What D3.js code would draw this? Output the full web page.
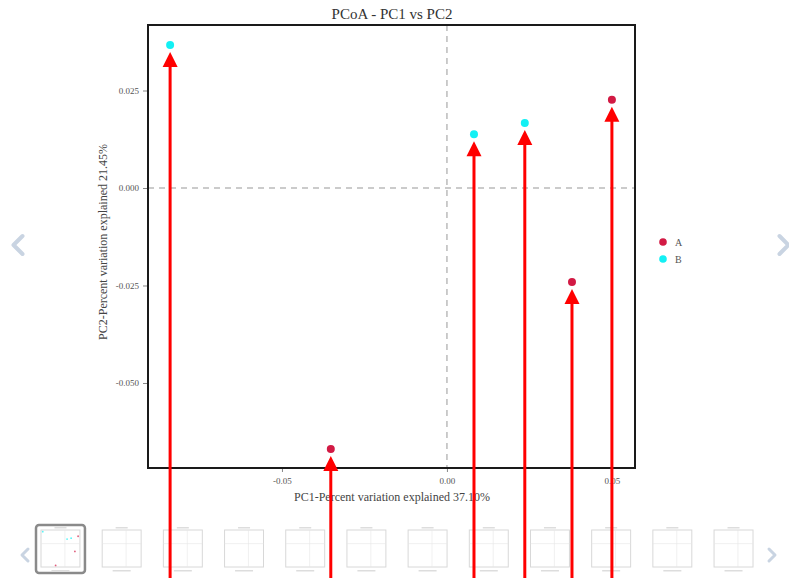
<!DOCTYPE html>
<html>
<head>
<meta charset="utf-8">
<script src="https://cdn.jsdelivr.net/npm/d3@7/dist/d3.min.js"></script>
<style>
  html, body { margin: 0; padding: 0; background: #fff; }
  svg { display: block; }
</style>
</head>
<body>
<svg id="chart" width="789" height="578"></svg>
<script>
// ---- data ----
const groups = ["A", "B"];
const sampleGroup = ["B", "A", "B", "B", "A", "A"];
const pc1Values = [-0.0839, -0.0352, 0.0082, 0.0236, 0.0379, 0.0500];
const pc2Values = [0.0367, -0.0669, 0.0138, 0.0167, -0.0241, 0.0226];
const xTickValues = [-0.05, 0.00, 0.05];
const yTickValues = [-0.050, -0.025, 0.000, 0.025];
const titleText = "PCoA - PC1 vs PC2";
const xLabelText = "PC1-Percent variation explained 37.10%";
const yLabelText = "PC2-Percent variation explained 21.45%";
const thumbnailCount = 12;

// ---- layout ----
const W = 789, H = 578;
const box = { left: 148, right: 635, top: 25, bottom: 468 };
const svg = d3.select("#chart");
const serif = "'Liberation Serif', 'DejaVu Serif', serif";

const x = d3.scaleLinear().domain([-0.0906, 0.0570]).range([box.left, box.right]);
const y = d3.scaleLinear().domain([-0.0718, 0.0418]).range([box.bottom, box.top]);
const color = d3.scaleOrdinal().domain(groups).range(["#d21a44", "#13f0f4"]);
const hyphenFmt = spec => { const f = d3.format(spec); return v => f(v).replace("\u2212", "-"); };

const points = pc1Values.map((v, i) => ({ x: v, y: pc2Values[i], g: sampleGroup[i] }));

// title
svg.append("text").attr("x", 392).attr("y", 19).attr("text-anchor", "middle")
  .attr("font-family", serif).attr("font-size", 15).attr("fill", "#333").text(titleText);

// zero reference lines
const plot = svg.append("g");
plot.append("line").attr("x1", x(0)).attr("x2", x(0)).attr("y1", box.top).attr("y2", box.bottom)
  .attr("stroke", "#bbb").attr("stroke-width", 1.5).attr("stroke-dasharray", "6,5");
plot.append("line").attr("x1", box.left).attr("x2", box.right).attr("y1", y(0)).attr("y2", y(0))
  .attr("stroke", "#bbb").attr("stroke-width", 1.5).attr("stroke-dasharray", "6,5");

// axes
const xAxis = d3.axisBottom(x).tickValues(xTickValues).tickFormat(hyphenFmt(".2f")).tickSize(4).tickPadding(6);
const yAxis = d3.axisLeft(y).tickValues(yTickValues).tickFormat(hyphenFmt(".3f")).tickSize(5).tickPadding(4);
const gx = svg.append("g").attr("transform", `translate(0,${box.bottom})`).call(xAxis);
const gy = svg.append("g").attr("transform", `translate(${box.left},0)`).call(yAxis);
[gx, gy].forEach(g => {
  g.select(".domain").remove();
  g.selectAll(".tick line").attr("stroke", "#888");
  g.selectAll(".tick text").attr("font-family", serif).attr("font-size", 9).attr("fill", "#555");
});

// frame
svg.append("rect").attr("x", box.left).attr("y", box.top)
  .attr("width", box.right - box.left).attr("height", box.bottom - box.top)
  .attr("fill", "none").attr("stroke", "#1a1a1a").attr("stroke-width", 2);

// points
svg.append("g").selectAll("circle").data(points).join("circle")
  .attr("cx", d => x(d.x)).attr("cy", d => y(d.y)).attr("r", 4)
  .attr("fill", d => color(d.g));

// axis labels
svg.append("text").attr("x", 392).attr("y", 501).attr("text-anchor", "middle")
  .attr("font-family", serif).attr("font-size", 12).attr("fill", "#444").text(xLabelText);
svg.append("text").attr("transform", "translate(107,242) rotate(-90)").attr("text-anchor", "middle")
  .attr("font-family", serif).attr("font-size", 12).attr("fill", "#444").text(yLabelText);

// legend
const leg = svg.append("g").attr("transform", "translate(663,242)");
groups.forEach((gname, i) => {
  const row = leg.append("g").attr("transform", `translate(0,${i * 17})`);
  row.append("circle").attr("r", 3.8).attr("fill", color(gname));
  row.append("text").attr("x", 12).attr("y", 3.5).attr("font-family", serif)
    .attr("font-size", 10).attr("fill", "#555").text(gname);
});

// side chevrons
function chevron(cx, cy, size, dir, sw) {
  svg.append("path")
    .attr("d", `M${cx + dir * size * 0.5},${cy - size} L${cx - dir * size * 0.5},${cy} L${cx + dir * size * 0.5},${cy + size}`)
    .attr("fill", "none").attr("stroke", "#c9d4e2").attr("stroke-width", sw)
    .attr("stroke-linecap", "round").attr("stroke-linejoin", "round");
}
chevron(18, 245, 9, 1, 4);
chevron(784, 245, 9, -1, 4);
chevron(25, 555, 6, 1, 3);
chevron(772, 555, 6, -1, 3);

// thumbnail strip
const thumbX = d3.scaleBand().domain(d3.range(thumbnailCount)).range([36, 758]).paddingInner(0.2);
const thumbs = svg.append("g");
d3.range(thumbnailCount).forEach(i => {
  const tx = thumbX(i), tw = thumbX.bandwidth(), ty = 525, th = 48;
  const g = thumbs.append("g");
  if (i === 0) {
    g.append("rect").attr("x", tx).attr("y", ty).attr("width", tw).attr("height", th)
      .attr("rx", 3).attr("fill", "#fff").attr("stroke", "#8a8a8a").attr("stroke-width", 2.5);
  }
  const ix = tx + 5, iw = tw - 10, iy = ty + 5, ih = th - 11;
  g.append("rect").attr("x", ix).attr("y", iy).attr("width", iw).attr("height", ih)
    .attr("fill", "#fff").attr("stroke", "#d8d8d8").attr("stroke-width", 1);
  const sx = d3.scaleLinear().domain(x.domain()).range([ix, ix + iw]);
  const sy = d3.scaleLinear().domain(y.domain()).range([iy + ih, iy]);
  g.append("line").attr("x1", sx(0)).attr("x2", sx(0)).attr("y1", iy).attr("y2", iy + ih)
    .attr("stroke", "#e6e6e6").attr("stroke-width", 0.6);
  g.append("line").attr("x1", ix).attr("x2", ix + iw).attr("y1", sy(0)).attr("y2", sy(0))
    .attr("stroke", "#e6e6e6").attr("stroke-width", 0.6);
  g.append("rect").attr("x", tx + tw / 2 - 6).attr("y", ty + 2).attr("width", 12).attr("height", 1.5).attr("fill", "#ddd");
  g.append("rect").attr("x", tx + tw / 2 - 9).attr("y", iy + ih + 3).attr("width", 18).attr("height", 1.5).attr("fill", "#ddd");
  if (i === 0) {
    g.selectAll("circle").data(points).join("circle")
      .attr("cx", d => sx(d.x)).attr("cy", d => sy(d.y)).attr("r", 0.9)
      .attr("fill", d => color(d.g)).attr("opacity", 0.7);
  }
});

// red annotation arrows
const arrows = svg.append("g");
points.forEach(d => {
  const px = x(d.x), py = y(d.y);
  const tip = py + 7, base = py + 22;
  arrows.append("line").attr("x1", px).attr("x2", px).attr("y1", H + 5).attr("y2", base - 1)
    .attr("stroke", "#ff0000").attr("stroke-width", 3);
  arrows.append("path")
    .attr("d", `M${px},${tip} L${px - 7.5},${base} L${px + 7.5},${base} Z`)
    .attr("fill", "#ff0000");
});
</script>
</body>
</html>
